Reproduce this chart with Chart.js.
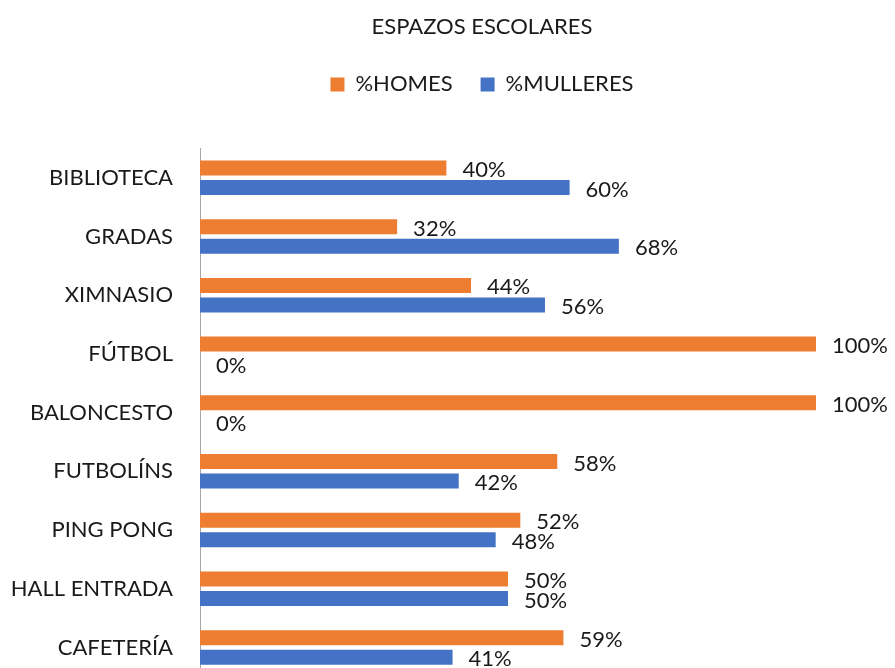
<!DOCTYPE html>
<html>
<head>
<meta charset="utf-8">
<script src="https://cdn.jsdelivr.net/npm/chart.js@4"></script>
<style>
html,body{margin:0;padding:0;background:#fff;overflow:hidden;}
canvas{display:block;}
</style>
</head>
<body>
<canvas id="c" width="895" height="717" style="width:895px;height:717px"></canvas>
<script>
const chartTitle = 'ESPAZOS ESCOLARES';
const categories = ['BIBLIOTECA','GRADAS','XIMNASIO','FÚTBOL','BALONCESTO','FUTBOLÍNS','PING PONG','HALL ENTRADA','CAFETERÍA'];
const seriesNames = ['%HOMES','%MULLERES'];
const homes = [40,32,44,100,100,58,52,50,59];
const mulleres = [60,68,56,0,0,42,48,50,41];

const FONT = 'Lato';
// 100% sits at x=816 while the plot spans 200..895
const X_MAX = 100 * (895 - 200) / 616;

const valueLabels = {
  id:'valueLabels',
  afterDatasetsDraw(chart){
    const ctx = chart.ctx;
    ctx.save();
    ctx.font = '22px ' + FONT;
    ctx.fillStyle = '#1a1a1a';
    ctx.textAlign = 'left';
    ctx.textBaseline = 'middle';
    chart.data.datasets.forEach((ds,di)=>{
      const meta = chart.getDatasetMeta(di);
      meta.data.forEach((bar,i)=>{
        ctx.fillText(ds.data[i] + '%', bar.x + 16, bar.y + 2);
      });
    });
    ctx.restore();
  }
};

new Chart(document.getElementById('c'), {
  type:'bar',
  data:{
    labels:categories,
    datasets:[
      {label:seriesNames[0], data:homes, backgroundColor:'#ED7D31', categoryPercentage:0.667, barPercentage:0.765},
      {label:seriesNames[1], data:mulleres, backgroundColor:'#4472C4', categoryPercentage:0.667, barPercentage:0.765}
    ]
  },
  options:{
    indexAxis:'y',
    responsive:false,
    animation:false,
    devicePixelRatio:1,
    layout:{padding:{left:0,right:-69,top:0,bottom:0}},
    plugins:{
      title:{display:true,text:chartTitle,color:'#1a1a1a',font:{family:FONT,size:22,weight:'normal'},padding:{top:14,bottom:5}},
      legend:{display:true,position:'top',labels:{boxWidth:14,boxHeight:14,padding:28,color:'#1a1a1a',font:{family:FONT,size:22}}},
      tooltip:{enabled:false}
    },
    scales:{
      x:{
        position:'top',min:0,max:X_MAX,
        grid:{display:false,drawTicks:false},
        border:{display:false},
        ticks:{display:false},
        afterFit(s){ s.height = 43; }
      },
      y:{
        grid:{display:false,drawTicks:false},
        border:{display:true,color:'#a6a6a6',width:1},
        ticks:{color:'#1a1a1a',font:{family:FONT,size:22},padding:27},
        afterFit(s){ s.width = 200; }
      }
    }
  },
  plugins:[valueLabels]
});
</script>
</body>
</html>
